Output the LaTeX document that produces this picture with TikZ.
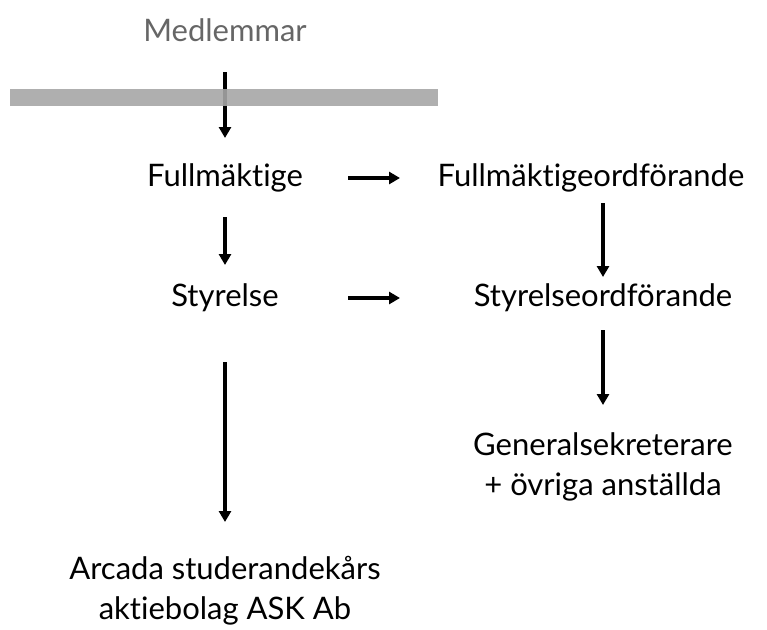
\documentclass[tikz,border=0pt]{standalone}
\usepackage{fontspec}
\setmainfont{Lato}[Ligatures={NoCommon}]
\usetikzlibrary{arrows.meta}
\begin{document}
\begin{tikzpicture}[x=1pt, y=-1pt,
    every node/.style={inner sep=0pt, align=center, font=\fontsize{31}{40}\selectfont},
    arr/.style={-{Triangle[length=11pt, width=12pt]}, line width=3.4pt}]
    \useasboundingbox (0,0) rectangle (767,629);
    % Nodes
    \node[text=black!60] (Med) at (225,30) {Medlemmar};
    \node (Full) at (225,178) {Fullmäktige};
    \node (FO) at (591,178) {Fullmäktigeordförande};
    \node (Sty) at (225,298) {Styrelse};
    \node (SO) at (603,298) {Styrelseordförande};
    \node (Gen) at (603,467) {Generalsekreterare\\+ övriga anställda};
    \node (ASK) at (225,591) {Arcada studerandekårs\\aktiebolag ASK Ab};

    % Arrows
    \draw[arr, shorten <=42pt, shorten >=40pt] (Med.center) -- (Full.center);
    \fill[black!35, fill opacity=0.9] (10,89) rectangle (438,106);
    \draw[arr, shorten <=123pt, shorten >=191pt] (Full.center) -- (FO.center);
    \draw[arr, shorten <=39pt, shorten >=33pt] (Full.center) -- (Sty.center);
    \draw[arr, shorten <=123pt, shorten >=203pt] (Sty.center) -- (SO.center);
    \draw[arr, shorten <=25pt, shorten >=21pt] (FO.center -| SO.center) -- (SO.center);
    \draw[arr, shorten <=32pt, shorten >=62pt] (SO.center) -- (Gen.center);
    \draw[arr, shorten <=64pt, shorten >=69pt] (Sty.center) -- (ASK.center);
\end{tikzpicture}
\end{document}
